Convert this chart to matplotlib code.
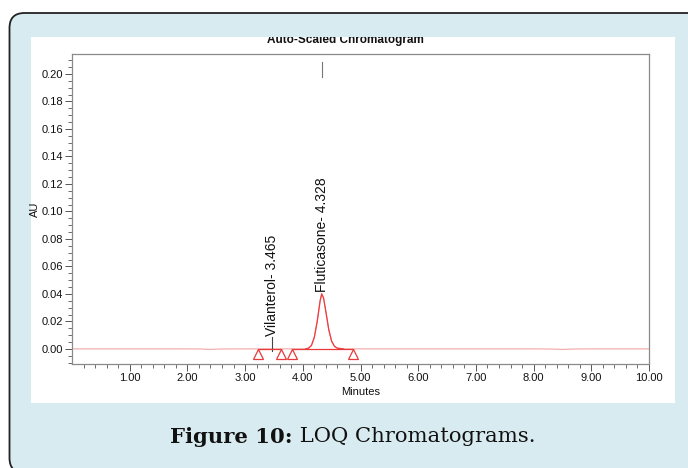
import matplotlib.pyplot as plt
import numpy as np
from matplotlib.patches import FancyBboxPatch, Rectangle

# chromatogram trace (minutes, AU)
times = [0.0, 1.0, 2.0, 2.25, 2.4, 2.55, 3.0, 3.4, 3.8, 4.05, 4.10, 4.15, 4.20, 4.25,
         4.30, 4.328, 4.36, 4.40, 4.45, 4.50, 4.55, 4.60, 4.70, 5.0, 6.0, 7.0, 8.0,
         8.3, 8.5, 8.7, 9.0, 10.0]
au = [0.0, 0.0, 0.0, -0.0001, -0.0004, -0.0001, 0.0, 0.0, 0.0, 0.0, 0.0005, 0.0025,
      0.0085, 0.020, 0.035, 0.040, 0.037, 0.027, 0.014, 0.0055, 0.0018, 0.0005, 0.0,
      0.0, 0.0, 0.0, 0.0, -0.0001, -0.0004, -0.0001, 0.0, 0.0]

peak_names = ['Vilanterol', 'Fluticasone']
peak_rt = [3.465, 4.328]
int_start = [3.22, 3.81]
int_end = [3.62, 4.87]
label_base = [0.0095, 0.0415]

xticks = [1, 2, 3, 4, 5, 6, 7, 8, 9, 10]
yticks = [0.00, 0.02, 0.04, 0.06, 0.08, 0.10, 0.12, 0.14, 0.16, 0.18, 0.20]

W, H = 6.88, 4.68
fig = plt.figure(figsize=(W, H), dpi=100)
fig.patch.set_facecolor('white')

# rounded light-blue frame (runs off the right and bottom edges) and white panel
frame = FancyBboxPatch((0.095, -0.05), 7.0, 4.60, boxstyle='round,pad=0,rounding_size=0.15',
                       transform=fig.dpi_scale_trans, facecolor='#d8ebf1',
                       edgecolor='#222222', linewidth=1.3, zorder=0)
fig.patches.append(frame)
panel = Rectangle((0.31, 0.65), 6.44, 3.66, transform=fig.dpi_scale_trans,
                  facecolor='white', edgecolor='none', zorder=1)
fig.patches.append(panel)

tick_font = ['Liberation Sans Narrow', 'Liberation Sans', 'DejaVu Sans']

ax = fig.add_axes([72 / 688, 1 - 364 / 468, (649 - 72) / 688, (364 - 54) / 468])
ax.set_zorder(2)
ax.set_facecolor('white')

t = np.array(times)
a = np.array(au)
ax.plot(t, a, color='#f4a6a6', lw=0.8, zorder=2)
pk = (t >= 4.05) & (t <= 4.70)
ax.plot(t[pk], a[pk], color='#ee3b3b', lw=0.9, zorder=3)

for s, e in zip(int_start, int_end):
    ax.plot([s, e], [0, 0], color='#e83a3a', lw=0.9, zorder=3)
    ax.plot([s, e], [-0.0036, -0.0036], ls='none', marker='^', ms=7,
            mfc='none', mec='#e83a3a', mew=0.9, zorder=4)

for name, rt, yb in zip(peak_names, peak_rt, label_base):
    apex = np.interp(rt, t, a)
    if yb - apex > 0.004:
        ax.plot([rt, rt], [apex - 0.0015, yb - 0.0008], color='#444444', lw=0.8)
    ax.text(rt, yb, f'{name}- {rt:.3f}', rotation=90, ha='center', va='bottom',
            fontsize=10, family=['Liberation Sans', 'DejaVu Sans'], color='#111111')

ax.plot([peak_rt[1], peak_rt[1]], [0.198, 0.2087], color='#777777', lw=0.8)

ax.set_xlim(0, 10)
ax.set_ylim(-0.011, 0.2145)
ax.set_xticks(xticks)
ax.set_xticklabels([f'{v:.2f}' for v in xticks])
ax.set_xticks(np.arange(0.2, 10, 0.2), minor=True)
ax.set_yticks(yticks)
ax.set_yticklabels([f'{v:.2f}' for v in yticks])
ax.set_yticks(np.arange(-0.01, 0.2145, 0.005), minor=True)

for sp in ax.spines.values():
    sp.set_color('#8a8a8a')
    sp.set_linewidth(0.9)
ax.tick_params(which='major', direction='out', length=5, width=0.7, color='#555555',
               labelsize=8, labelcolor='#111111', pad=1.5)
ax.tick_params(which='minor', direction='out', length=3, width=0.6, color='#555555')
for lb in ax.get_xticklabels() + ax.get_yticklabels():
    lb.set_family(tick_font)

ax.set_xlabel('Minutes', fontsize=8, family=tick_font, labelpad=3, color='#111111')
ax.set_ylabel('AU', fontsize=8, family=tick_font, labelpad=1, color='#111111')

# title sits partly under the panel edge
fig.text(345 / 688, 1 - 43.5 / 468, 'Auto-Scaled Chromatogram', ha='center', va='baseline',
         fontsize=8.5, fontweight='bold', family=['Liberation Sans', 'DejaVu Sans'],
         color='#111111', zorder=3)
band = Rectangle((0.31, 4.31), 6.44, 0.14, transform=fig.dpi_scale_trans,
                 facecolor='#d8ebf1', edgecolor='none', zorder=4)
fig.patches.append(band)

# caption: bold "Figure 10:" followed by regular text, centred as a whole
cap_font = ['DejaVu Serif']
cap_y = 1 - 437 / 468
t1 = fig.text(0, cap_y, 'Figure 10:', ha='left', va='center', fontsize=15.2,
              fontweight='bold', family=cap_font, color='#111111', zorder=3)
t2 = fig.text(0, cap_y, ' LOQ Chromatograms.', ha='left', va='center', fontsize=15.2,
              family=cap_font, color='#111111', zorder=3)
fig.canvas.draw()
w1 = t1.get_window_extent().width
w2 = t2.get_window_extent().width
x0 = 352.5 - (w1 + w2) / 2
t1.set_x(x0 / 688)
t2.set_x((x0 + w1) / 688)

fig.savefig('out.png', dpi=100)
